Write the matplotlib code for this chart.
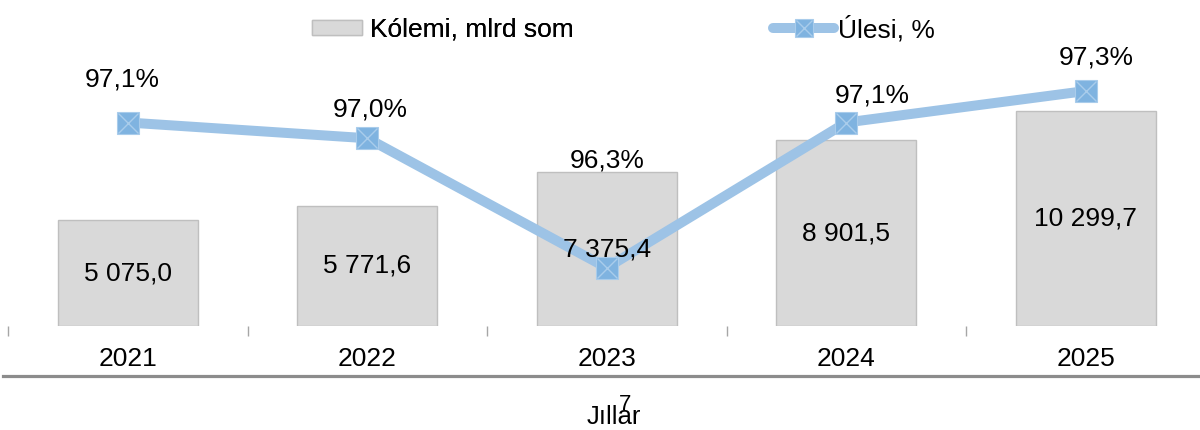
import matplotlib
matplotlib.use("Agg")
import matplotlib.pyplot as plt
from matplotlib.lines import Line2D
from matplotlib.patches import Patch

plt.rcParams['font.family'] = ['Liberation Sans', 'DejaVu Sans']

years = ["2021", "2022", "2023", "2024", "2025"]
volume = [5075.0, 5771.6, 7375.4, 8901.5, 10299.7]
share = [97.12, 97.03, 96.29, 97.12, 97.30]
volume_name = "Kólemi, mlrd som"
share_name = "Úlesi, %"
xlabel = "Jıllar"
page_no = "7"

FS = 19.0
BAR_FACE = "#D9D9D9"
BAR_EDGE = "#BFBFBF"
LINE_C = "#9DC3E6"
MARK_C = "#7FB3E0"
X_C = "#A9CCEB"

W, H = 1200, 430
fig = plt.figure(figsize=(W / 100, H / 100), dpi=100)
ax = fig.add_axes([8 / W, (H - 326) / H, 1197.5 / W, 276 / H])
ax2 = ax.twinx()

x = list(range(len(years)))
ax.bar(x, volume, width=0.585, color=BAR_FACE, edgecolor=BAR_EDGE, linewidth=1.0, zorder=1)
ax.set_xlim(-0.5, len(years) - 0.5)
ax.set_ylim(0, 276 * 47.9)

ax2.set_ylim(97.3 - 235 / 175, 97.3 + 41 / 175)
ax2.plot(x, share, color=LINE_C, lw=7.2, solid_capstyle='round', solid_joinstyle='round', zorder=2)
ax2.plot(x, share, ls='none', marker='s', ms=16.5, mfc=MARK_C, mec=X_C, mew=0.8, zorder=3)
ax2.plot(x, share, ls='none', marker='x', ms=15, mec=X_C, mew=1.0, zorder=4)

# bar value labels (on top of the line)
for xi, v in zip(x, volume):
    s = f"{v:,.1f}".replace(",", " ").replace(".", ",")
    ax2.text(xi, v / 2, s, transform=ax.transData, ha='center', va='center',
             fontsize=FS, color='black', zorder=6)

# share labels
offsets = [(-5, 43), (3, 29), (0, 107), (26, 27), (10, 34)]
for xi, v, (dx, dy) in zip(x, share, offsets):
    ax2.annotate(f"{v:.1f}%".replace(".", ","), (xi, v), xytext=(dx, dy),
                 textcoords='offset pixels', ha='center', va='center',
                 fontsize=FS, color='black', zorder=6)

for a in (ax, ax2):
    for sp in a.spines.values():
        sp.set_visible(False)
ax2.set_yticks([])
ax.set_yticks([])
ax.set_xticks(x)
ax.set_xticklabels(years, fontsize=FS)
ax.tick_params(axis='x', which='major', length=0, pad=15)
ax.set_xticks([i - 0.5 for i in x], minor=True)
ax.tick_params(axis='x', which='minor', length=7, width=1, color='#A6A6A6', direction='out')

# horizontal rule
fig.add_artist(Line2D([3 / W, 1.0], [1 - 375.5 / H] * 2, transform=fig.transFigure,
                      color='#8C8C8C', lw=2.3))

fig.text(614 / W, 1 - 417 / H, xlabel, ha='center', va='center', fontsize=18.5)
fig.text(625.5 / W, 1 - 404 / H, page_no, ha='center', va='center', fontsize=16)

# legends
h1 = Patch(facecolor=BAR_FACE, edgecolor=BAR_EDGE, linewidth=1.0)
leg1 = fig.legend([h1], [volume_name], loc='center left', bbox_to_anchor=(312 / W, 1 - 30 / H),
                  frameon=False, fontsize=FS, handlelength=1.9, handleheight=0.5,
                  handletextpad=0.3, borderpad=0, borderaxespad=0)
fig.add_artist(leg1)
hl = Line2D([], [], color=LINE_C, lw=7.2, solid_capstyle='round')
hm = Line2D([], [], ls='none', marker='s', ms=13, mfc=MARK_C, mec=X_C, mew=0.8)
hx = Line2D([], [], ls='none', marker='x', ms=12, mec=X_C, mew=1.0)
leg2 = fig.legend([(hl, hm, hx)], [share_name], loc='center left', bbox_to_anchor=(773 / W, 1 - 29 / H),
                  frameon=False, fontsize=FS, handlelength=2.32, handletextpad=0.15,
                  borderpad=0, borderaxespad=0)

fig.savefig("out.png", dpi=100)
